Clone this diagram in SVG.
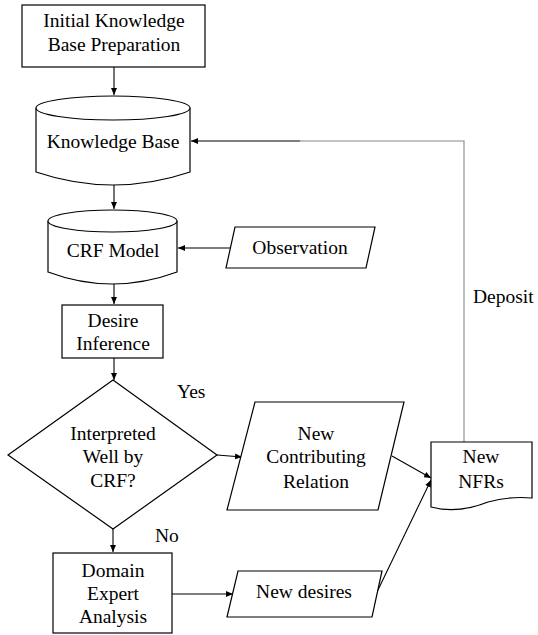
<svg xmlns="http://www.w3.org/2000/svg" width="538" height="635" viewBox="0 0 538 635">
<style>
text{font-family:'Liberation Serif','Times New Roman',serif;font-size:19.5px;fill:#000;text-anchor:middle}
.s{fill:#fff;stroke:#000;stroke-width:1.2}
.c{fill:none;stroke:#000;stroke-width:1.1}
.g{fill:none;stroke:#888;stroke-width:1.1}
.l{text-anchor:start}
</style>
<defs>
<marker id="a" markerWidth="8" markerHeight="6" refX="7" refY="3" orient="auto" markerUnits="userSpaceOnUse">
<path d="M0,0 L7,3 L0,6 Z" fill="#000"/>
</marker>
</defs>
<rect width="538" height="635" fill="#fff"/>
<g id="connectors">
<line class="c" x1="114" y1="67" x2="114" y2="95" marker-end="url(#a)"/>
<line class="c" x1="114" y1="185" x2="114" y2="209" marker-end="url(#a)"/>
<line class="c" x1="230" y1="248" x2="178" y2="248" marker-end="url(#a)"/>
<line class="c" x1="114" y1="284" x2="114" y2="304" marker-end="url(#a)"/>
<line class="c" x1="114" y1="358" x2="114" y2="380" marker-end="url(#a)"/>
<line class="c" x1="217" y1="455" x2="242" y2="457" marker-end="url(#a)"/>
<line class="c" x1="113" y1="529" x2="113" y2="552" marker-end="url(#a)"/>
<line class="c" x1="172" y1="594" x2="233" y2="594" marker-end="url(#a)"/>
<line class="c" x1="392" y1="456" x2="431" y2="478" marker-end="url(#a)"/>
<line class="c" x1="377" y1="592" x2="431" y2="480" marker-end="url(#a)"/>
<polyline class="g" points="464,442 464,141 300,141"/>
<line class="c" x1="300" y1="141" x2="191" y2="141" marker-end="url(#a)"/>
<text class="l" x="473" y="303">Deposit</text>
<text class="l" x="177" y="398">Yes</text>
<text class="l" x="155" y="542">No</text>
</g>
<g id="initial">
<rect class="s" x="22" y="5" width="183" height="62"/>
<text x="114" y="27">Initial Knowledge</text>
<text x="114" y="51">Base Preparation</text>
</g>
<g id="kb">
<path class="s" d="M36,108 V172 Q113,198 190,172 V108"/>
<ellipse class="s" cx="113" cy="108" rx="77" ry="12"/>
<text x="113" y="148">Knowledge Base</text>
</g>
<g id="crf">
<path class="s" d="M48,221 V272 Q112,296 177,272 V221"/>
<ellipse class="s" cx="112.5" cy="221" rx="64.5" ry="11"/>
<text x="113" y="257">CRF Model</text>
</g>
<g id="observation">
<polygon class="s" points="235,227 375,227 366,268 226,268"/>
<text x="300" y="254">Observation</text>
</g>
<g id="desire">
<rect class="s" x="62" y="305" width="101" height="53"/>
<text x="113" y="327">Desire</text>
<text x="113" y="350">Inference</text>
</g>
<g id="decision">
<polygon class="s" points="113,380 217,455 113,529 8,455"/>
<text x="113" y="440">Interpreted</text>
<text x="113" y="463">Well by</text>
<text x="113" y="487">CRF?</text>
</g>
<g id="ncr">
<polygon class="s" points="255,402 404,402 378,510 227,510"/>
<text x="316" y="440">New</text>
<text x="316" y="463">Contributing</text>
<text x="316" y="488">Relation</text>
</g>
<g id="nfrs">
<path class="s" d="M431,442 H532 V498 Q510,496 488,502 Q458,514 431,507 Z"/>
<text x="481" y="463">New</text>
<text x="481" y="488">NFRs</text>
</g>
<g id="domain">
<rect class="s" x="53" y="553" width="119" height="80"/>
<text x="113" y="577">Domain</text>
<text x="113" y="600">Expert</text>
<text x="113" y="623">Analysis</text>
</g>
<g id="newdesires">
<polygon class="s" points="238,571 382,571 372,617 227,617"/>
<text x="304" y="598">New desires</text>
</g>
</svg>
